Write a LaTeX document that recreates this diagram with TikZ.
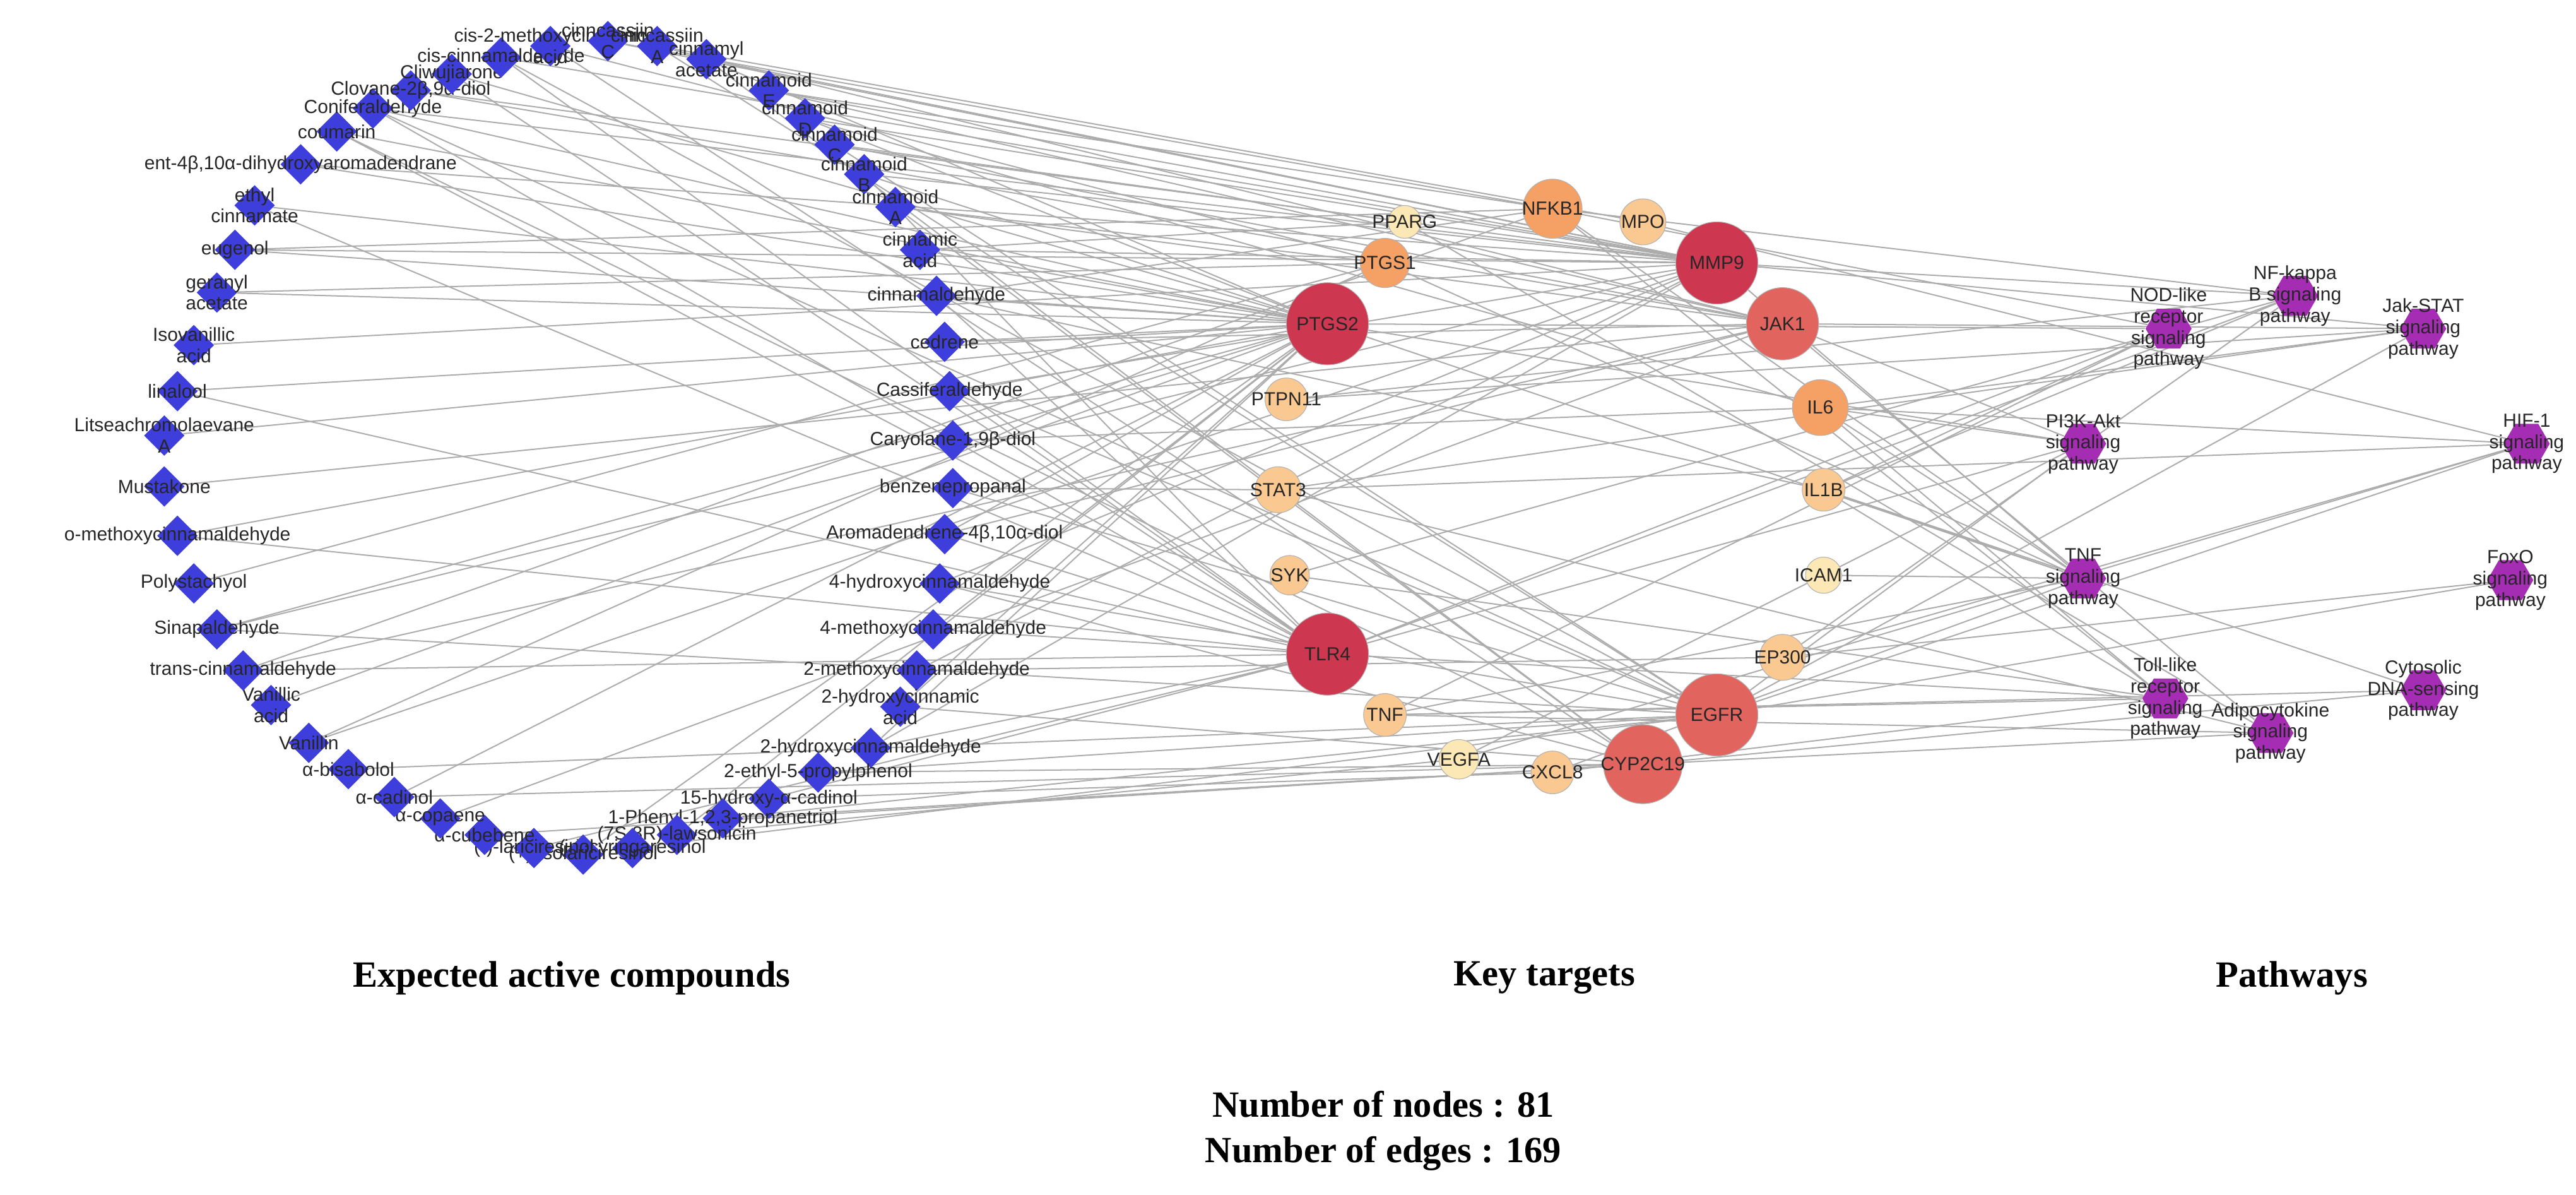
\documentclass[tikz,border=0pt]{standalone}
\usepackage{fontspec}
\setmainfont{Liberation Sans}
\newfontfamily\capfont{Liberation Serif}
\usetikzlibrary{shapes.geometric,backgrounds}
\definecolor{cblue}{RGB}{62,62,220}
\definecolor{tA}{RGB}{205,55,80}
\definecolor{tB}{RGB}{225,100,95}
\definecolor{tC}{RGB}{245,160,100}
\definecolor{tD}{RGB}{250,200,145}
\definecolor{tE}{RGB}{252,232,180}
\definecolor{pw}{RGB}{165,45,180}
\begin{document}
\begin{tikzpicture}[x=0.25mm,y=-0.25mm,
  font=\fontsize{8.2}{9.2}\selectfont,
  lbl/.style={align=center,inner sep=0pt,text=black!85},
  cp/.style={diamond,fill=cblue,minimum size=6.2mm,inner sep=0pt},
  tg/.style={circle,draw=gray!60,line width=0.3pt,inner sep=0pt},
  pp/.style={regular polygon,regular polygon sides=6,fill=pw,minimum size=7mm,inner sep=0pt},
  ed/.style={draw=gray!65,line width=0.55pt},
  mycap/.style={font=\capfont\bfseries\fontsize{16}{19}\selectfont}]
\useasboundingbox (0,0) rectangle (1568,727);
% compounds
\foreach \n/\x/\y/\t in {
 c1/183/100/{ent-4β,10α-dihydroxyaromadendrane}, c2/205/80/{coumarin}, c3/227/66/{Coniferaldehyde},
 c4/250/55/{Clovane-2β,9α-diol}, c5/275/45/{Cliwujiarone}, c6/305/35/{cis-cinnamaldehyde},
 c7/335/28/{cis-2-methoxycinnamic\\acid}, c8/370/25/{cinncassiin\\C}, c9/400/28/{cinncassiin\\A},
 c10/430/36/{cinnamyl\\acetate}, c11/468/55/{cinnamoid\\E}, c12/490/72/{cinnamoid\\D},
 c13/508/88/{cinnamoid\\C}, c14/526/106/{cinnamoid\\B}, c15/545/126/{cinnamoid\\A},
 c16/560/152/{cinnamic\\acid}, c17/570/180/{cinnamaldehyde}, c18/575/208/{cedrene},
 c19/578/238/{Cassiferaldehyde}, c20/580/268/{Caryolane-1,9β-diol}, c21/580/297/{benzenepropanal},
 c22/575/325/{Aromadendrene-4β,10α-diol}, c23/572/355/{4-hydroxycinnamaldehyde},
 c24/568/383/{4-methoxycinnamaldehyde}, c25/558/408/{2-methoxycinnamaldehyde},
 c26/548/430/{2-hydroxycinnamic\\acid}, c27/530/455/{2-hydroxycinnamaldehyde},
 c28/498/470/{2-ethyl-5-propylphenol}, c29/468/486/{15-hydroxy-α-cadinol},
 c30/440/498/{1-Phenyl-1,2,3-propanetriol}, c31/412/508/{(7S,8R)-lawsonicin},
 c32/385/516/{(+)-syringaresinol}, c33/355/520/{(+)-isolariciresinol}, c34/325/516/{(-)-lariciresinol},
 c35/295/508/{α-cubebene}, c36/268/498/{α-copaene}, c37/240/485/{α-cadinol},
 c38/212/468/{α-bisabolol}, c39/188/452/{Vanillin}, c40/165/429/{Vanillic\\acid},
 c41/148/408/{trans-cinnamaldehyde}, c42/132/383/{Sinapaldehyde}, c43/118/355/{Polystachyol},
 c44/108/326/{o-methoxycinnamaldehyde}, c45/100/296/{Mustakone}, c46/100/265/{Litseachromolaevane\\A},
 c47/108/238/{linalool}, c48/118/210/{Isovanillic\\acid}, c49/132/178/{geranyl\\acetate},
 c50/143/152/{eugenol}, c51/155/125/{ethyl\\cinnamate}}
 \node[cp,label={[lbl]center:\t}] (\n) at (\x,\y) {};
% targets
\foreach \n/\x/\y/\r/\c in {PPARG/855/135/10/tE, NFKB1/945/127/18/tC, MPO/1000/135/14/tD,
 MMP9/1045/160/25/tA, PTGS1/843/160/15/tC, PTGS2/808/197/25/tA, JAK1/1085/197/22/tB,
 IL6/1108/248/17/tC, PTPN11/783/243/13/tD, STAT3/778/298/14/tD, IL1B/1110/298/13/tD,
 SYK/785/350/12/tD, ICAM1/1110/350/11/tE, TLR4/808/398/25/tA, EP300/1085/400/14/tD,
 TNF/843/435/13/tD, EGFR/1045/435/25/tB, VEGFA/888/462/12/tE, CXCL8/945/470/13/tD,
 CYP2C19/1000/465/24/tB}
 \node[tg,fill=\c,minimum size=\r*0.5mm,label={[lbl]center:\n}] (\n) at (\x,\y) {};
% pathways
\foreach \n/\x/\y/\t in {p1/1320/200/{NOD-like\\receptor\\signaling\\pathway},
 p2/1397/180/{NF-kappa\\B signaling\\pathway}, p3/1475/200/{Jak-STAT\\signaling\\pathway},
 p4/1268/270/{PI3K-Akt\\signaling\\pathway}, p5/1538/270/{HIF-1\\signaling\\pathway},
 p6/1268/352/{TNF\\signaling\\pathway}, p7/1528/353/{FoxO\\signaling\\pathway},
 p8/1318/425/{Toll-like\\receptor\\signaling\\pathway}, p9/1382/446/{Adipocytokine\\signaling\\pathway},
 p10/1475/420/{Cytosolic\\DNA-sensing\\pathway}}
 \node[pp,label={[lbl]center:\t}] (\n) at (\x,\y) {};
\begin{scope}[on background layer]
\foreach \s/\l in {c1/{PTGS2,MMP9}, c2/{PTGS2,TLR4,CYP2C19}, c3/{PTGS2,MMP9,TLR4,EGFR}, c4/{MMP9,JAK1},
 c5/{PTGS2,TLR4}, c6/{TLR4,EGFR,MMP9}, c7/{PTGS1,CYP2C19}, c8/{NFKB1,MMP9}, c9/{MPO,JAK1,EGFR},
 c10/{PTGS2,MMP9,CYP2C19}, c11/{NFKB1,MMP9,JAK1}, c12/{PTGS2,MMP9,IL6}, c13/{PPARG,JAK1,EGFR},
 c14/{PTGS2,MMP9,TLR4}, c15/{PTGS1,JAK1,CYP2C19}, c16/{PTGS2,PPARG,MMP9}, c17/{PTGS2,TLR4,IL1B,NFKB1},
 c18/{PTGS2,JAK1}, c19/{MMP9,TLR4,EGFR}, c20/{PTGS2,IL6}, c21/{STAT3,EGFR}, c22/{PTGS2,JAK1,TLR4},
 c23/{MMP9,EGFR,CYP2C19}, c24/{PTGS2,TLR4}, c25/{MMP9,EP300}, c26/{PTGS2,CYP2C19},
 c27/{PTGS2,MMP9,TLR4}, c28/{EGFR,CYP2C19}, c29/{TLR4,CXCL8}, c30/{CYP2C19,EGFR}, c31/{PTGS2,VEGFA},
 c32/{EGFR}, c33/{PTGS2}, c34/{TLR4}, c35/{CYP2C19}, c36/{JAK1}, c37/{PTGS2,CYP2C19}, c38/{EGFR},
 c39/{MMP9,PTGS1}, c40/{PTGS2}, c41/{TLR4,NFKB1,JAK1}, c42/{PTGS2,MMP9,EGFR}, c43/{PTGS1},
 c44/{PTGS2,TLR4}, c45/{JAK1}, c46/{PTGS2}, c47/{PTGS2,TLR4}, c48/{MMP9}, c49/{PTGS2,PTGS1},
 c50/{PTGS2,MMP9,NFKB1}, c51/{PTGS2,TLR4}}
 {\foreach \t in \l {\draw[ed] (\s) -- (\t);}}
\foreach \s/\l in {PTGS2/{p1,p4,p6}, MMP9/{p2,p6,p3}, TLR4/{p1,p8,p2,p4}, EGFR/{p4,p5,p7,p3},
 CYP2C19/{p9,p10}, JAK1/{p3,p4,p9}, NFKB1/{p1,p2,p6,p8}, PTGS1/{p6}, IL6/{p3,p4,p6,p5,p8},
 MPO/{p5}, PPARG/{p9}, PTPN11/{p3,p2}, STAT3/{p3,p5,p9}, SYK/{p2,p8}, IL1B/{p1,p2,p6,p8,p10},
 ICAM1/{p6}, EP300/{p5,p7,p2}, TNF/{p1,p6,p8,p9,p10}, VEGFA/{p4,p5}, CXCL8/{p8,p6}}
 {\foreach \t in \l {\draw[ed] (\s) -- (\t);}}
\end{scope}
\node[mycap] (h1) at (348,595) {Expected active compounds};
\node[mycap] (h2) at (940,595) {Key targets};
\node[mycap] (h3) at (1395,595) {Pathways};
\node[mycap] (n1) at (842,672) {Number of nodes : 81};
\node[mycap] (n2) at (842,702) {Number of edges : 169};
\end{tikzpicture}
\end{document}
